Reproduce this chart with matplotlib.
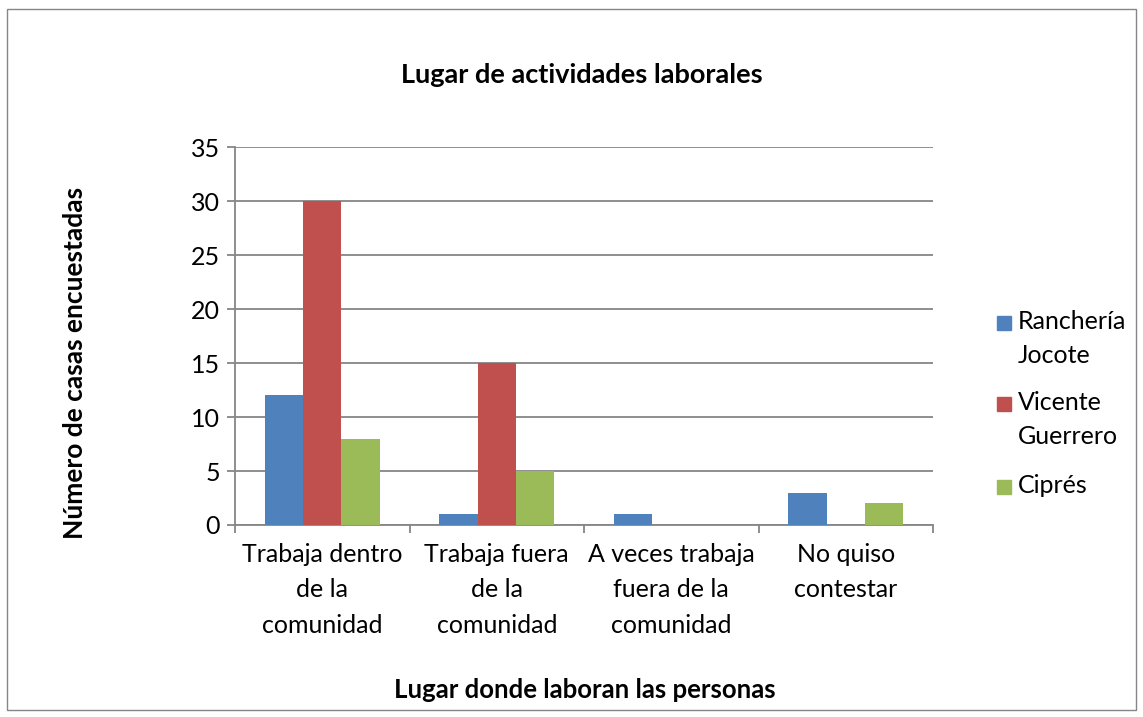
import numpy as np
import matplotlib.pyplot as plt
from matplotlib.patches import Rectangle

categorias = ['Trabaja dentro\nde la\ncomunidad', 'Trabaja fuera\nde la\ncomunidad',
              'A veces trabaja\nfuera de la\ncomunidad', 'No quiso\ncontestar']
series = ['Ranchería\nJocote', 'Vicente\nGuerrero', 'Ciprés']
rancheria = [12, 1, 1, 3]
vicente = [30, 15, 0, 0]
cipres = [8, 5, 0, 2]
colores = ['#4F81BD', '#C0504D', '#9BBB59']

plt.rcParams['font.family'] = ['Lato', 'DejaVu Sans']

fig = plt.figure(figsize=(11.43, 7.17), dpi=100)
fig.patches.append(Rectangle((0.006, 0.01), 0.988, 0.978, transform=fig.transFigure,
                             fill=False, edgecolor='#868686', linewidth=1))
ax = fig.add_axes([0.2056, 0.2678, 0.6107, 0.527])

x = np.arange(len(categorias))
ancho = 0.22
for i, vals in enumerate([rancheria, vicente, cipres]):
    ax.bar(x + (i - 1) * ancho, vals, ancho, color=colores[i], zorder=3)

ax.set_xlim(-0.5, len(categorias) - 0.5)
ax.set_ylim(0, 35)
ax.set_yticks(range(0, 36, 5))
ax.yaxis.grid(True, color='#868686', linewidth=1.3, zorder=0)
ax.set_xticks(x)
ax.set_xticklabels(categorias, fontsize=18, linespacing=1.65)
ax.set_xticks(np.arange(-0.5, len(categorias), 1), minor=True)
ax.tick_params(axis='x', which='major', length=0, pad=13)
ax.tick_params(axis='x', which='minor', length=6, color='#868686', width=1.3)
ax.tick_params(axis='y', length=6, color='#868686', width=1.3, labelsize=18, pad=5)
for s in ['top', 'right']:
    ax.spines[s].set_visible(False)
for s in ['left', 'bottom']:
    ax.spines[s].set_color('#868686')
    ax.spines[s].set_linewidth(1.3)

fig.text(0.509, 0.895, 'Lugar de actividades laborales', ha='center', va='center',
         fontsize=19.5, fontweight='bold')
fig.text(0.512, 0.038, 'Lugar donde laboran las personas', ha='center', va='center',
         fontsize=18.5, fontweight='bold')
fig.text(0.066, 0.494, 'Número de casas encuestadas', ha='center', va='center',
         rotation=90, fontsize=19, fontweight='bold')

# leyenda dibujada a mano: el cuadro va alineado con la primera línea
y_leyenda = [1 - 323 / 717, 1 - 404 / 717, 1 - 487 / 717]
for nombre, color, yl in zip(series, colores, y_leyenda):
    fig.patches.append(Rectangle((0.8723, yl - 0.0098), 0.0122, 0.0195,
                                 transform=fig.transFigure, color=color))
    fig.text(0.8906, yl + 0.018, nombre, ha='left', va='top', fontsize=18,
             linespacing=1.6)

fig.savefig('out.png', dpi=100)
